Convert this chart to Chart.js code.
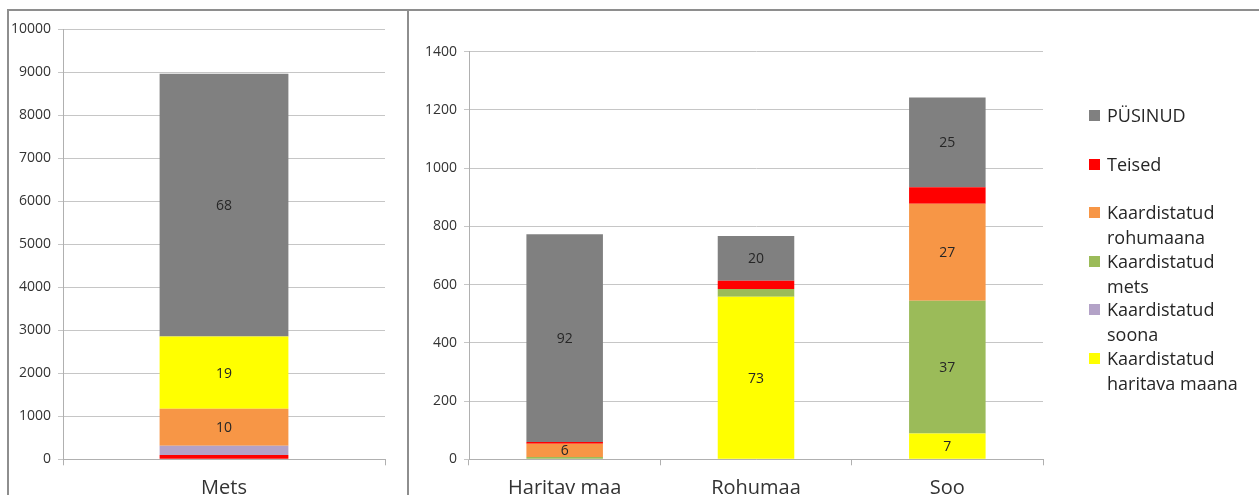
<!DOCTYPE html>
<html>
<head>
<meta charset="utf-8">
<script src="https://cdn.jsdelivr.net/npm/chart.js@4.4.1/dist/chart.umd.min.js"></script>
<style>
  html, body { margin: 0; padding: 0; background: #fff; overflow: hidden; }
  body { width: 1259px; height: 495px; position: relative; font-family: "Open Sans", sans-serif; }
  .panel-left { position: absolute; left: 7px; top: 9px; width: 402px; height: 600px;
                border-left: 2px solid #8e8e8e; border-top: 2px solid #8e8e8e; border-right: 2px solid #8e8e8e; box-sizing: border-box; }
  .panel-right { position: absolute; left: 407px; top: 9px; width: 900px; height: 2px; background: #8e8e8e; }
  .chart-box { position: absolute; }
  #legend { position: absolute; left: 1089px; top: 103px; margin: 0; padding: 0; list-style: none; }
  #legend li { position: relative; height: 48.5px; padding-left: 18px; width: 160px;
               font-size: 18px; line-height: 25px; color: #262626; white-space: nowrap; }
  #legend .sw { position: absolute; left: 0; top: 7px; width: 11px; height: 11px; }
</style>
</head>
<body>
<div class="panel-left"></div>
<div class="panel-right"></div>
<div class="chart-box" style="left:8px; top:10px; width:399px; height:500px;"><canvas id="left"></canvas></div>
<div class="chart-box" style="left:407px; top:10px; width:852px; height:500px;"><canvas id="right"></canvas></div>
<ul id="legend"></ul>
<script>
// Series colours
const COLORS = {
  pysinud: '#808080',
  teised: '#FF0000',
  rohumaa: '#F79646',
  mets: '#9BBB59',
  soo: '#B3A2C7',
  haritav: '#FFFF00'
};

// Series names
const NAME_PYSINUD = 'PÜSINUD';
const NAME_TEISED = 'Teised';
const NAME_ROHUMAA = 'Kaardistatud rohumaana';
const NAME_METS = 'Kaardistatud mets';
const NAME_SOO = 'Kaardistatud soona';
const NAME_HARITAV = 'Kaardistatud haritava maana';

// Left chart: forest land
const leftCategories = ['Mets'];
const leftTeised = [100];
const leftSoo = [216];
const leftRohumaa = [860];
const leftHaritav = [1678];
const leftPysinud = [6111];
const leftTicks = { min: 0, max: 10000, step: 1000 };

// Right chart: arable land, grassland, wetland
const rightCategories = ['Haritav maa', 'Rohumaa', 'Soo'];
const rightHaritav = [0, 558, 89];
const rightSoo = [0, 0, 0];
const rightMets = [8, 27, 456];
const rightRohumaa = [45, 0, 333];
const rightTeised = [6, 28, 56];
const rightPysinud = [714, 154, 309];
const rightTicks = { min: 0, max: 1400, step: 200 };

const FONT = '"Open Sans", sans-serif';
const TEXT = '#333333';
const GRID = '#c6c6c6';
const AXIS = '#b0b0b0';

// Writes each segment's share of its stack (in %) in the middle of the segment;
// segments under 5 % of the stack stay unlabelled
const percentLabels = {
  id: 'percentLabels',
  afterDatasetsDraw(chart) {
    const ctx = chart.ctx;
    const n = chart.data.labels.length;
    const totals = [];
    for (let i = 0; i < n; i++) {
      totals[i] = chart.data.datasets.reduce((s, d) => s + (d.data[i] || 0), 0);
    }
    ctx.save();
    ctx.font = '14px ' + FONT;
    ctx.fillStyle = '#262626';
    ctx.textAlign = 'center';
    ctx.textBaseline = 'middle';
    chart.data.datasets.forEach((ds, di) => {
      const meta = chart.getDatasetMeta(di);
      meta.data.forEach((bar, i) => {
        const v = ds.data[i];
        if (!v) return;
        const share = v / totals[i];
        if (share < 0.05) return;
        const p = bar.getProps(['x', 'y', 'base'], true);
        ctx.fillText(String(Math.round(share * 100)), p.x, (p.y + p.base) / 2 + 1);
      });
    });
    ctx.restore();
  }
};

function ds(label, data, color) {
  return { label, data, backgroundColor: color, borderWidth: 0,
           barPercentage: 0.4, categoryPercentage: 1.0 };
}

function options(t, yWidth, padding) {
  return {
    responsive: true,
    maintainAspectRatio: false,
    animation: false,
    layout: { padding },
    plugins: { legend: { display: false }, tooltip: { enabled: false } },
    scales: {
      x: {
        stacked: true,
        grid: { display: true, drawOnChartArea: false, offset: true, tickLength: 6, color: AXIS, lineWidth: 1 },
        border: { display: true, color: AXIS },
        ticks: { color: TEXT, font: { family: FONT, size: 20 }, padding: 11 },
        afterFit(s) { s.height = 50.7; }
      },
      y: {
        stacked: true,
        min: t.min, max: t.max,
        grid: { color: GRID, tickLength: 5, lineWidth: 1 },
        border: { display: true, color: AXIS },
        ticks: { stepSize: t.step, color: TEXT, font: { family: FONT, size: 14 }, padding: 7,
                 callback: v => String(v) },
        afterFit(s) { s.width = yWidth; }
      }
    }
  };
}

new Chart(document.getElementById('left'), {
  type: 'bar',
  data: {
    labels: leftCategories,
    datasets: [
      ds(NAME_TEISED, leftTeised, COLORS.teised),
      ds(NAME_SOO, leftSoo, COLORS.soo),
      ds(NAME_ROHUMAA, leftRohumaa, COLORS.rohumaa),
      ds(NAME_HARITAV, leftHaritav, COLORS.haritav),
      ds(NAME_PYSINUD, leftPysinud, COLORS.pysinud)
    ]
  },
  options: options(leftTicks, 55, { top: 19.3, left: 0, right: 22, bottom: 0 }),
  plugins: [percentLabels]
});

const rightChart = new Chart(document.getElementById('right'), {
  type: 'bar',
  data: {
    labels: rightCategories,
    datasets: [
      ds(NAME_HARITAV, rightHaritav, COLORS.haritav),
      ds(NAME_SOO, rightSoo, COLORS.soo),
      ds(NAME_METS, rightMets, COLORS.mets),
      ds(NAME_ROHUMAA, rightRohumaa, COLORS.rohumaa),
      ds(NAME_TEISED, rightTeised, COLORS.teised),
      ds(NAME_PYSINUD, rightPysinud, COLORS.pysinud)
    ]
  },
  options: options(rightTicks, 62, { top: 41.7, left: 0, right: 216, bottom: 0 }),
  plugins: [percentLabels]
});

// Legend, listed top to bottom in the reverse of the stacking order;
// multi-word names break after the first word
const legend = document.getElementById('legend');
rightChart.data.datasets.slice().reverse().forEach(d => {
  const li = document.createElement('li');
  const sw = document.createElement('span');
  sw.className = 'sw';
  sw.style.background = d.backgroundColor;
  li.appendChild(sw);
  const words = d.label.split(' ');
  li.appendChild(document.createTextNode(words[0]));
  if (words.length > 1) {
    li.appendChild(document.createElement('br'));
    li.appendChild(document.createTextNode(words.slice(1).join(' ')));
  }
  legend.appendChild(li);
});
</script>
</body>
</html>
